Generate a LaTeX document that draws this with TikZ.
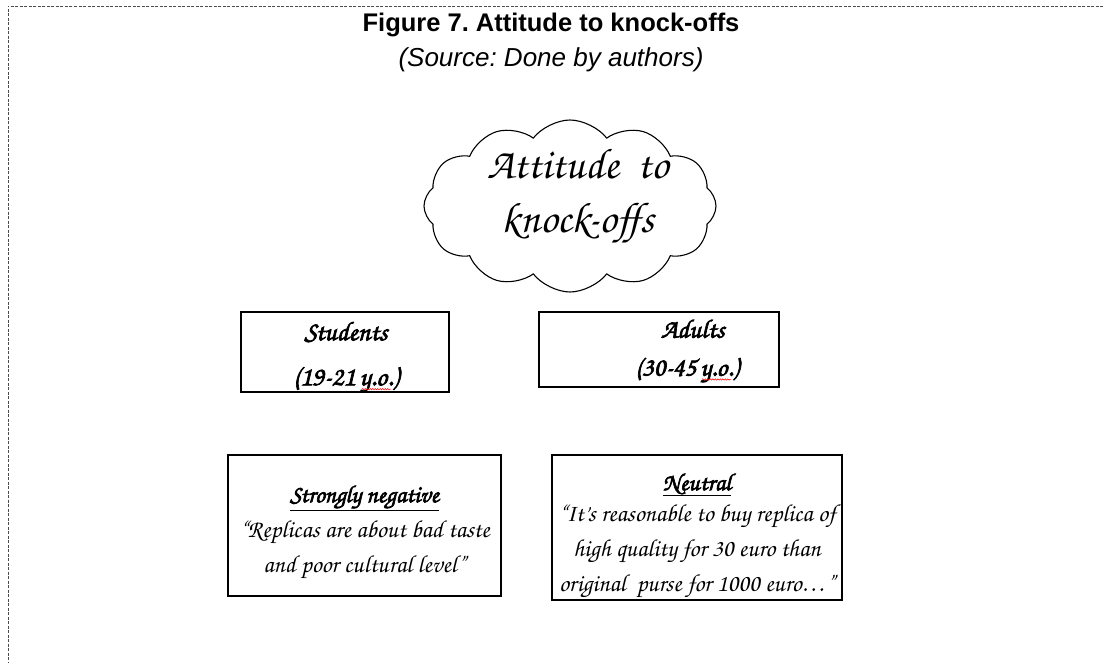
\documentclass[tikz,border=0pt]{standalone}
\usepackage{fontspec}
\usepackage{tikz}
\usetikzlibrary{shapes.symbols,decorations.pathmorphing}
\newfontfamily\headfont{Liberation Sans}
\newfontfamily\chorus{texgyrechorus-mediumitalic.otf}
\newfontfamily\chorusbold{texgyrechorus-mediumitalic.otf}[FakeBold=2.6]
\frenchspacing

\tikzset{
  framebox/.style={draw, line width=1.3pt, inner sep=0pt},
  agetext/.style={align=center, inner sep=0pt, font=\chorusbold\fontsize{27}{45}\selectfont},
  quotetext/.style={align=center, inner sep=0pt, font=\chorus\fontsize{24.5}{35}\selectfont},
  squiggle/.style={red, line width=0.5pt, decorate, decoration={snake, amplitude=0.7pt, segment length=2.5pt}}
}

\begin{document}
\begin{tikzpicture}[x=1pt,y=-1pt]
  \useasboundingbox (0,0) rectangle (1103,663);
  % dashed page frame
  \draw[gray!60!black, line width=0.8pt, dash pattern=on 3pt off 1.5pt] (1103,6) -- (8,6) -- (8,663);

  % heading
  \node[font=\headfont\bfseries\fontsize{25.5}{28}\selectfont] (title) at (551,25) {Figure 7. Attitude to knock-offs};
  \node[font=\headfont\itshape\fontsize{26}{28}\selectfont] (source) at (551,60) {(Source: Done by authors)};

  % cloud
  \node[cloud, draw, line width=1.1pt, cloud puffs=12, cloud puff arc=105, aspect=1.65,
        minimum width=292pt, minimum height=172pt] (cloud) at (570,206) {};
  \node[align=center, font=\chorus\fontsize{43}{54}\selectfont] (cloudtext) at (578,196) {Attitude\ \ to\\knock-offs};

  % groups
  \begin{scope}[every node/.style={framebox}]
    \node[minimum width=208pt, minimum height=80pt] (students) at (345,352) {};
    \node[minimum width=240pt, minimum height=75pt] (adults) at (659,349.5) {};
    \node[minimum width=273pt, minimum height=141pt] (negative) at (364.5,525.5) {};
    \node[minimum width=290pt, minimum height=145pt] (neutral) at (697,527.5) {};
  \end{scope}

  \node[agetext] (studentstext) at (346,357) {Students\\(19-21\,y.o.)};
  \node[agetext, font=\chorusbold\fontsize{26.5}{38}\selectfont] (adultstext) at (687,351) {\ \ Adults\\(30-45\,y.o.)};
  \draw[squiggle] ([xshift=-37pt,yshift=3pt]studentstext.south east) -- ++(29,0);
  \draw[squiggle] ([xshift=-37pt,yshift=3pt]adultstext.south east) -- ++(29,0);

  \node[quotetext] (negativetext) at (364.5,532)
    {{\chorusbold\underline{Strongly negative}}\\“Replicas are about bad taste\\and poor cultural level”};
  \node[quotetext] (neutraltext) at (697,535.5)
    {{\chorusbold\underline{Neutral}}\\[-4pt]“It’s reasonable to buy replica of\\high quality for 30 euro than\\original\ \ purse for 1000 euro…”};
\end{tikzpicture}
\end{document}
